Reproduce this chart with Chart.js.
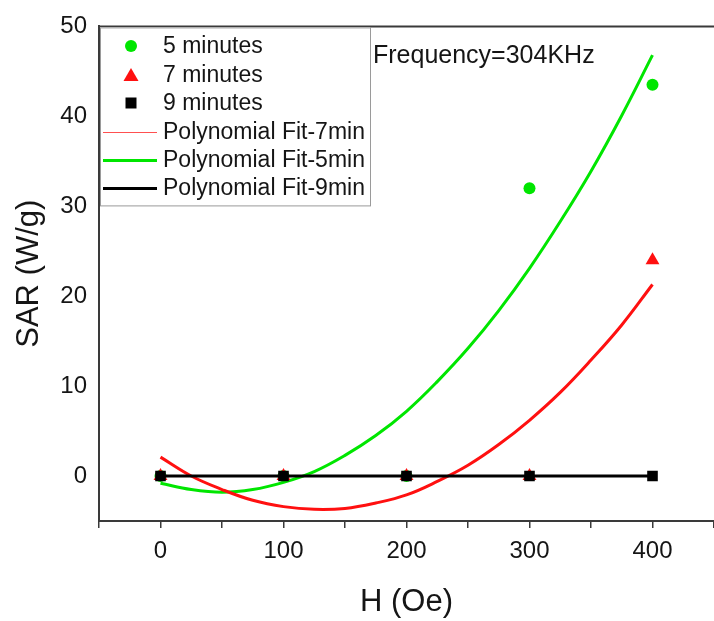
<!DOCTYPE html>
<html lang="en">
<head>
  <meta charset="UTF-8">
  <title>SAR vs H</title>
  <script src="https://cdn.jsdelivr.net/npm/chart.js"></script>
  <style>
    html, body { margin: 0; padding: 0; background: #fff; overflow: hidden; }
    .chart-container { width: 714px; height: 621px; }
  </style>
</head>
<body>
  <div class="chart-container"><canvas id="sarChart"></canvas></div>

  <script>
    // measured points
    const fieldH = [0, 100, 200, 300, 400];
    const sar5min = [0, 0, 0, 32, 43.5];
    const sar7min = [0, 0, 0, 0, 24];
    const sar9min = [0, 0, 0, 0, 0];

    // fitted curves, every 25 Oe
    const fitH = [0, 25, 50, 75, 100, 125, 150, 175, 200, 225, 250, 275, 300, 325, 350, 375, 400];
    const fit5min = [-0.8, -1.5, -1.8, -1.5, -0.7, 0.5, 2.3, 4.5, 7.2, 10.5, 14.2, 18.4, 23.1, 28.3, 33.9, 40.1, 46.8];
    const fit7min = [2.1, 0.0, -1.5, -2.7, -3.4, -3.7, -3.6, -3.0, -2.1, -0.6, 1.2, 3.5, 6.2, 9.3, 12.9, 16.8, 21.3];
    const fit9min = [0, 0, 0, 0, 0, 0, 0, 0, 0, 0, 0, 0, 0, 0, 0, 0, 0];

    const xTicks = [0, 100, 200, 300, 400];
    const yTicks = [0, 10, 20, 30, 40, 50];

    const GREEN = '#00e600';
    const RED = '#ff1010';
    const BLACK = '#000000';
    const TEXT = '#151515';
    const AXIS = '#3a3a3a';

    const toPoints = (xs, ys) => xs.map((x, i) => ({ x: x, y: ys[i] }));

    Chart.defaults.font.family = "'Liberation Sans', Arial, sans-serif";
    Chart.defaults.color = TEXT;

    // datasets are listed in legend order; `order` controls what is painted on top
    const datasets = [
      { label: '5 minutes', data: toPoints(fieldH, sar5min), pointStyle: 'circle', pointRadius: 6,
        backgroundColor: GREEN, borderColor: GREEN, borderWidth: 0, showLine: false, order: 3 },
      { label: '7 minutes', data: toPoints(fieldH, sar7min), pointStyle: 'triangle', pointRadius: 8,
        backgroundColor: RED, borderColor: RED, borderWidth: 0, showLine: false, order: 2 },
      { label: '9 minutes', data: toPoints(fieldH, sar9min), pointStyle: 'rect', pointRadius: 7.5,
        backgroundColor: BLACK, borderColor: BLACK, borderWidth: 0, showLine: false, order: 0 },
      { label: 'Polynomial Fit-7min', data: toPoints(fitH, fit7min), showLine: true, pointRadius: 0,
        borderColor: RED, borderWidth: 3, tension: 0.4, legendWidth: 1, legendColor: '#ff5050', order: 4 },
      { label: 'Polynomial Fit-5min', data: toPoints(fitH, fit5min), showLine: true, pointRadius: 0,
        borderColor: GREEN, borderWidth: 3, tension: 0.4, legendWidth: 3, order: 5 },
      { label: 'Polynomial Fit-9min', data: toPoints(fitH, fit9min), showLine: true, pointRadius: 0,
        borderColor: BLACK, borderWidth: 3, tension: 0, legendWidth: 3, order: 1 }
    ];

    function drawMarker(ctx, style, x, y, color) {
      ctx.fillStyle = color;
      ctx.beginPath();
      if (style === 'circle') {
        ctx.arc(x, y, 6, 0, Math.PI * 2);
      } else if (style === 'triangle') {
        ctx.moveTo(x, y - 7);
        ctx.lineTo(x + 7.5, y + 6);
        ctx.lineTo(x - 7.5, y + 6);
        ctx.closePath();
      } else {
        ctx.rect(x - 5.5, y - 5.5, 11, 11);
      }
      ctx.fill();
    }

    const sarDecor = {
      id: 'sarDecor',
      afterDraw(chart) {
        const { ctx, chartArea: a } = chart;
        ctx.save();

        // top edge of the frame
        ctx.strokeStyle = AXIS;
        ctx.lineWidth = 2;
        ctx.beginPath();
        ctx.moveTo(a.left - 1, a.top);
        ctx.lineTo(a.right, a.top);
        ctx.stroke();

        // legend box
        const bx = a.left + 1, by = a.top + 1, bw = 270, bh = 178;
        ctx.fillStyle = '#fff';
        ctx.fillRect(bx, by, bw, bh);
        ctx.strokeStyle = '#9a9a9a';
        ctx.lineWidth = 1;
        ctx.strokeRect(bx + 0.5, by + 0.5, bw, bh);

        ctx.font = "23px 'Liberation Sans', Arial, sans-serif";
        ctx.textBaseline = 'middle';
        ctx.textAlign = 'left';
        chart.data.datasets.forEach((ds, i) => {
          const y = Math.round(a.top + 20 + i * 28.4);
          if (ds.showLine) {
            ctx.strokeStyle = ds.legendColor || ds.borderColor;
            ctx.lineWidth = ds.legendWidth;
            const ly = ds.legendWidth % 2 ? y + 0.5 : y;
            ctx.beginPath();
            ctx.moveTo(a.left + 4, ly);
            ctx.lineTo(a.left + 58, ly);
            ctx.stroke();
          } else {
            drawMarker(ctx, ds.pointStyle, a.left + 32, y, ds.backgroundColor);
          }
          ctx.fillStyle = TEXT;
          ctx.fillText(ds.label, a.left + 64, y + 1);
        });

        // annotation
        ctx.font = "25px 'Liberation Sans', Arial, sans-serif";
        ctx.textBaseline = 'alphabetic';
        ctx.fillStyle = TEXT;
        ctx.fillText('Frequency=304KHz', a.left + 274, a.top + 37);

        ctx.restore();
      }
    };

    new Chart(document.getElementById('sarChart').getContext('2d'), {
      type: 'scatter',
      data: { datasets: datasets },
      options: {
        responsive: true,
        maintainAspectRatio: false,
        animation: false,
        layout: { autoPadding: false, padding: { top: 24, right: 0, bottom: 0, left: 0 } },
        plugins: {
          legend: { display: false },
          tooltip: { enabled: false }
        },
        scales: {
          x: {
            type: 'linear',
            min: -50,
            max: 450,
            afterFit: s => { s.height = 100; s.paddingLeft = 0; s.paddingRight = 0; },
            border: { display: true, color: AXIS, width: 2 },
            grid: { drawOnChartArea: false, drawTicks: true, tickLength: 7, color: AXIS, lineWidth: 1.5 },
            ticks: {
              stepSize: 50,
              autoSkip: false,
              maxRotation: 0,
              padding: 9,
              color: TEXT,
              font: { size: 24 },
              callback: v => xTicks.includes(v) ? String(v) : ''
            },
            title: { display: true, text: 'H (Oe)', color: TEXT, font: { size: 31, lineHeight: 1.2 }, padding: { top: 0, bottom: 0 } }
          },
          y: {
            type: 'linear',
            min: -5,
            max: 50,
            afterFit: s => { s.width = 99; },
            border: { display: true, color: AXIS, width: 2 },
            grid: { display: false, drawTicks: false },
            ticks: {
              stepSize: 10,
              includeBounds: false,
              padding: 12,
              color: TEXT,
              font: { size: 24 },
              callback: v => yTicks.includes(v) ? String(v) : ''
            },
            title: { display: true, text: 'SAR (W/g)', color: TEXT, font: { size: 31, lineHeight: 1.2 }, padding: { top: 11, bottom: 0 } }
          }
        }
      },
      plugins: [sarDecor]
    });
  </script>
</body>
</html>
